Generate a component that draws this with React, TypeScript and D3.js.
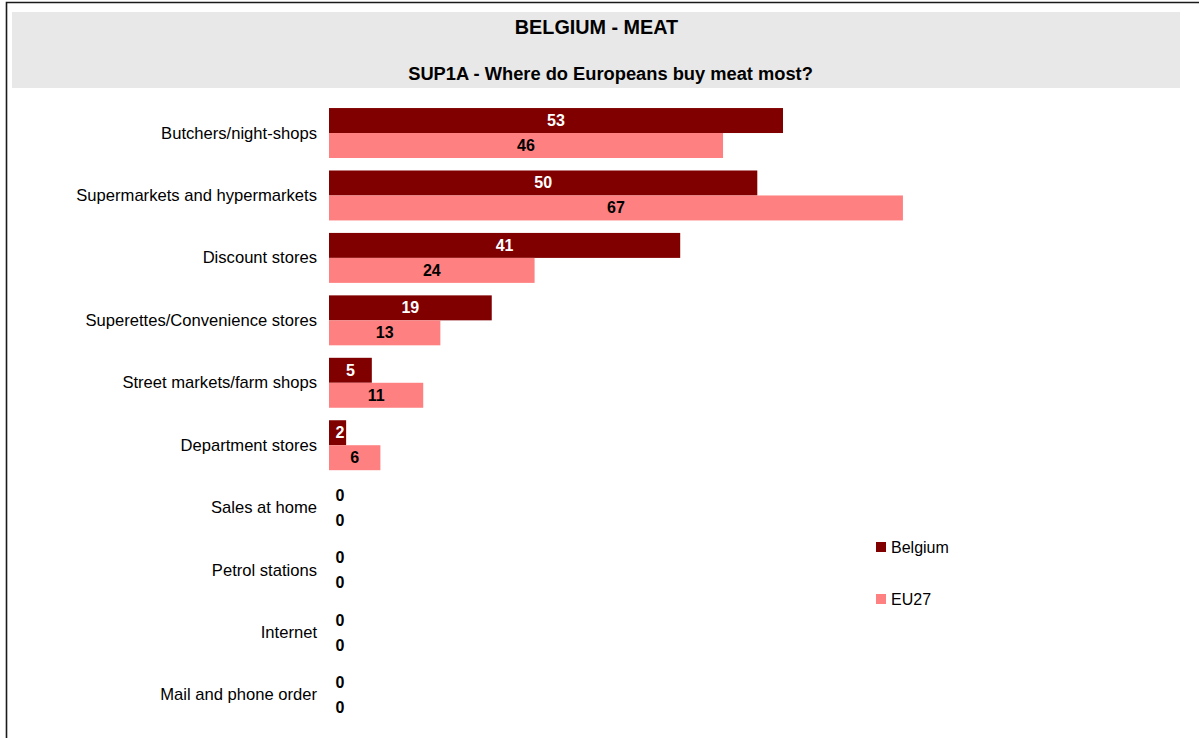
import React from "react";
import * as d3 from "d3";

const categories = [
  "Butchers/night-shops",
  "Supermarkets and hypermarkets",
  "Discount stores",
  "Superettes/Convenience stores",
  "Street markets/farm shops",
  "Department stores",
  "Sales at home",
  "Petrol stations",
  "Internet",
  "Mail and phone order",
];
const belgium = [53, 50, 41, 19, 5, 2, 0, 0, 0, 0];
const eu27 = [46, 67, 24, 13, 11, 6, 0, 0, 0, 0];
const seriesNames = ["Belgium", "EU27"];
const seriesColors = ["#800000", "#ff8080"];
const labelColors = ["#ffffff", "#000000"];
const title = "BELGIUM - MEAT";
const subtitle = "SUP1A - Where do Europeans buy meat most?";

const FONT = "'Liberation Sans', Arial, Helvetica, sans-serif";

export default function App() {
  const W = 1202;
  const H = 738;
  const x0 = 329;
  const x = d3.scaleLinear().domain([0, 67]).range([x0, x0 + 67 * 8.566]);
  const y = d3
    .scaleBand<string>()
    .domain(categories)
    .range([101.8, 726.2])
    .paddingInner(0.2)
    .paddingOuter(0.1);
  const ys = d3.scaleBand<string>().domain(seriesNames).range([0, y.bandwidth()]);
  const series = [belgium, eu27];

  return (
    <svg
      width={W}
      height={H}
      style={{ position: "absolute", left: 0, top: 0, background: "#fff" }}
      fontFamily={FONT}
    >
      <rect x={0} y={0} width={W} height={H} fill="#fff" />
      <path d="M6.5,738 V2.5 H1199" fill="none" stroke="#1a1a1a" strokeWidth={1.6} />
      <rect x={12} y={12} width={1168} height={76} fill="#e8e8e8" />
      <text x={596.5} y={27} textAnchor="middle" dominantBaseline="central" fontWeight="bold" fontSize={19.8} fill="#000">
        {title}
      </text>
      <text x={610.5} y={73} textAnchor="middle" dominantBaseline="central" fontWeight="bold" fontSize={18.3} fill="#000">
        {subtitle}
      </text>

      {categories.map((c) => (
        <text
          key={c}
          x={317}
          y={(y(c) as number) + y.bandwidth() / 2}
          textAnchor="end"
          dominantBaseline="central"
          fontSize={16.6}
          fill="#000"
        >
          {c}
        </text>
      ))}

      {series.map((vals, si) =>
        categories.map((c, i) => {
          const v = vals[i];
          const top = (y(c) as number) + (ys(seriesNames[si]) as number);
          const h = ys.bandwidth();
          const w = x(v) - x0;
          const cx = w < 24 ? x0 + 11 : x0 + w / 2;
          const col = v === 0 ? "#000" : labelColors[si];
          return (
            <g key={`${si}-${i}`}>
              {v > 0 && <rect x={x0} y={top} width={w} height={h} fill={seriesColors[si]} />}
              <text
                x={cx}
                y={top + h / 2}
                textAnchor="middle"
                dominantBaseline="central"
                fontWeight="bold"
                fontSize={16}
                fill={col}
              >
                {v}
              </text>
            </g>
          );
        })
      )}

      {seriesNames.map((s, si) => (
        <g key={s}>
          <rect x={876} y={542 + si * 52} width={10} height={10} fill={seriesColors[si]} />
          <text x={891} y={547.5 + si * 52} dominantBaseline="central" fontSize={16} fill="#000">
            {s}
          </text>
        </g>
      ))}
    </svg>
  );
}
